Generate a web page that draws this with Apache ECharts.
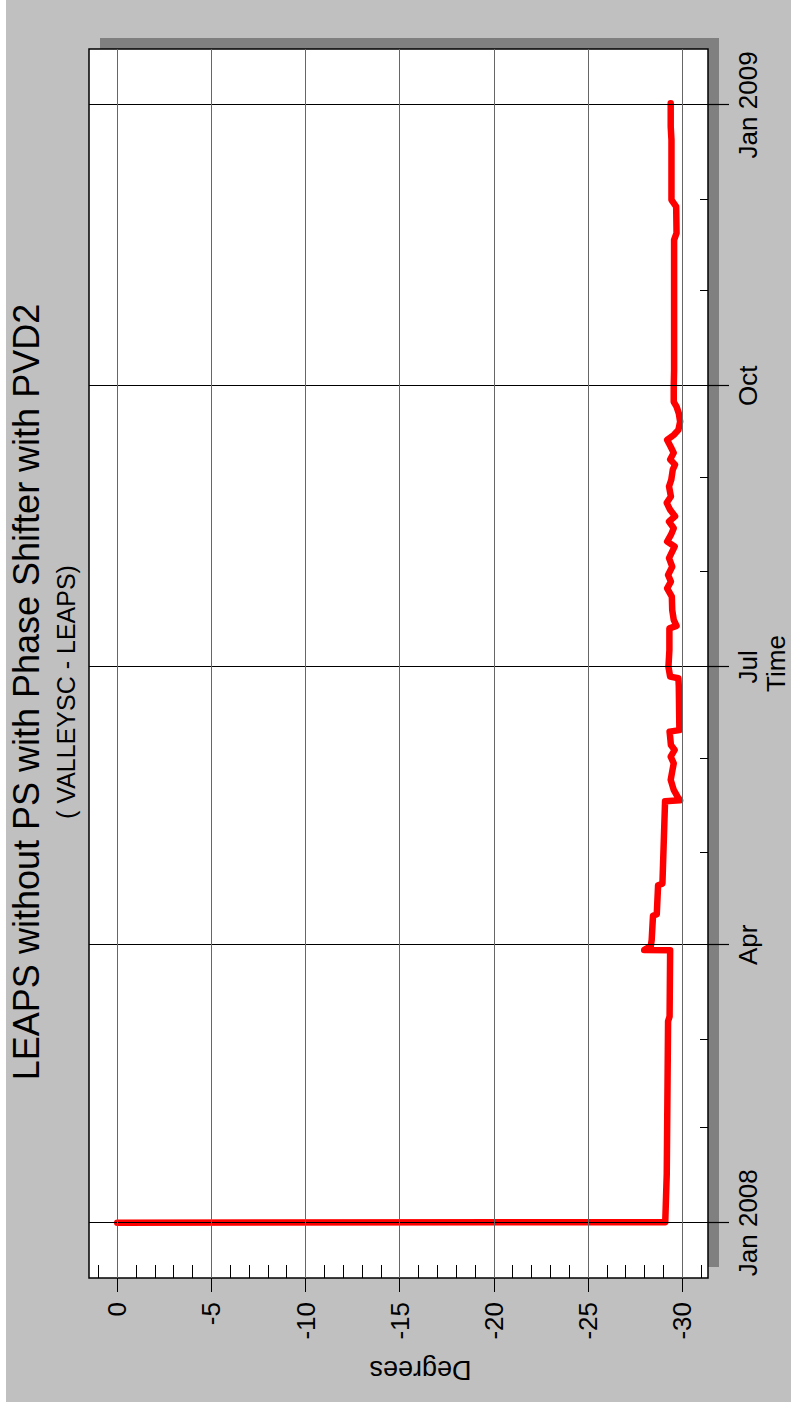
<!DOCTYPE html>
<html><head><meta charset="utf-8">
<script src="https://cdn.jsdelivr.net/npm/echarts@6/dist/echarts.min.js"></script>
<style>
html,body{margin:0;padding:0;width:791px;height:1410px;overflow:hidden;background:#fff;}
#chart{position:absolute;left:0;top:0;width:1410px;height:791px;transform-origin:0 0;transform:translate(0,1410px) rotate(-90deg);}
</style></head><body><div id="chart"></div>
<script>
// ---- data ----
const times = [
 '2008-01-01 00:00','2008-01-01 04:00','2008-01-17 00:00','2008-03-07 00:00','2008-03-08 12:00',
 '2008-03-30 05:00','2008-03-30 07:00','2008-03-30 14:00','2008-03-31 12:00','2008-04-02 14:00',
 '2008-04-10 12:00','2008-04-11 00:00','2008-04-20 12:00','2008-04-21 00:00','2008-05-18 00:00',
 '2008-05-18 07:00','2008-05-19 12:00','2008-05-21 17:00','2008-05-25 00:00','2008-05-27 02:00',
 '2008-05-30 10:00','2008-06-01 14:00','2008-06-03 19:00','2008-06-05 10:00','2008-06-08 02:00',
 '2008-06-09 19:00','2008-06-10 07:00','2008-06-24 12:00','2008-06-27 07:00','2008-06-27 19:00',
 '2008-07-01 00:00','2008-07-06 12:00','2008-07-13 14:00','2008-07-14 10:00','2008-07-16 10:00',
 '2008-07-19 14:00','2008-07-24 00:00','2008-07-26 17:00','2008-07-28 22:00','2008-07-31 02:00',
 '2008-08-02 19:00','2008-08-05 14:00','2008-08-09 10:00','2008-08-11 00:00','2008-08-13 05:00',
 '2008-08-15 10:00','2008-08-17 14:00','2008-08-19 07:00','2008-08-21 12:00','2008-08-23 17:00',
 '2008-08-25 19:00','2008-08-29 02:00','2008-08-31 07:00','2008-09-03 14:00','2008-09-05 05:00',
 '2008-09-06 22:00','2008-09-09 02:00','2008-09-11 02:00','2008-09-13 07:00','2008-09-14 22:00',
 '2008-09-16 14:00','2008-09-19 07:00','2008-09-22 00:00','2008-09-24 05:00','2008-09-25 19:00',
 '2008-09-30 17:00','2008-10-06 05:00','2008-11-17 19:00','2008-11-20 00:00','2008-11-28 17:00',
 '2008-11-30 22:00','2008-12-20 12:00','2008-12-24 22:00','2009-01-01 12:00'
];
const degrees = [
 0,-29.1,-29.18,-29.25,-29.33,
 -29.36,-27.98,-28.05,-28.33,-28.38,
 -28.45,-28.65,-28.72,-28.95,-29.09,
 -29.89,-29.75,-29.55,-29.39,-29.45,
 -29.55,-29.39,-29.6,-29.4,-29.36,
 -29.33,-29.85,-29.82,-29.8,-29.36,
 -29.27,-29.32,-29.32,-29.7,-29.55,
 -29.47,-29.45,-29.2,-29.4,-29.25,
 -29.47,-29.3,-29.6,-29.2,-29.4,
 -29.55,-29.3,-29.62,-29.35,-29.18,
 -29.4,-29.3,-29.42,-29.5,-29.62,
 -29.36,-29.55,-29.39,-29.2,-29.55,
 -29.8,-29.89,-29.82,-29.7,-29.55,
 -29.55,-29.57,-29.57,-29.7,-29.68,
 -29.43,-29.43,-29.39,-29.39
];
const timeTickDates = ['2008-01-01','2008-04-01','2008-07-01','2008-10-01','2009-01-01'];
const timeTickLabels = ['Jan 2008','Apr','Jul','Oct','Jan 2009'];
const monthTickDates = ['2008-01-01','2008-02-01','2008-03-01','2008-04-01','2008-05-01','2008-06-01',
 '2008-07-01','2008-08-01','2008-09-01','2008-10-01','2008-11-01','2008-12-01','2009-01-01'];
const degreeTicks = [0,-5,-10,-15,-20,-25,-30];
const degreeMinorTicks = [1,0,-1,-2,-3,-4,-5,-6,-7,-8,-9,-10,-11,-12,-13,-14,-15,-16,-17,-18,-19,-20,
 -21,-22,-23,-24,-25,-26,-27,-28,-29,-30,-31];
const titleText = 'LEAPS without PS with Phase Shifter with PVD2';
const subtitleText = '( VALLEYSC - LEAPS)';

// ---- helpers ----
function toMs(s){
  const parts = s.split(' ');
  const d = parts[0].split('-').map(Number);
  const t = (parts[1] || '00:00').split(':').map(Number);
  return new Date(d[0], d[1]-1, d[2], t[0], t[1]).getTime();
}
const majorMs = timeTickDates.map(toMs);
const monthMs = monthTickDates.map(toMs);
const tMin = toMs('2007-12-13 21:36');
const tMax = toMs('2009-01-19 07:12');
const FONT = 'Liberation Sans';

const chart = echarts.init(document.getElementById('chart'), null, {renderer:'svg', width:1410, height:791});
chart.setOption({
  animation:false,
  backgroundColor:'transparent',
  graphic:{elements:[
    {type:'rect', z:-10, silent:true, shape:{x:8,y:6,width:1402,height:785}, style:{fill:'#c0c0c0'}},
    {type:'rect', z:-9, silent:true, shape:{x:143,y:100,width:1229,height:619}, style:{fill:'#808080'}}
  ]},
  title:[
    {text:titleText, left:718, top:8.5, textAlign:'center', padding:0,
     textStyle:{fontSize:36, fontWeight:'normal', color:'#000', fontFamily:FONT}},
    {text:subtitleText, left:718, top:53, textAlign:'center', padding:0,
     textStyle:{fontSize:25, fontWeight:'normal', color:'#000', fontFamily:FONT}}
  ],
  grid:{left:132, right:49, top:89, bottom:83, show:true, backgroundColor:'#fff',
        borderColor:'#000', borderWidth:1.5, containLabel:false, outerBoundsMode:'none'},
  xAxis:[
    {type:'value', min:tMin, max:tMax, position:'bottom', scale:true,
     axisLine:{show:false, onZero:false},
     axisTick:{show:true, customValues:majorMs, length:21, lineStyle:{color:'#000', width:1.2}},
     axisLabel:{customValues:majorMs, fontSize:26, color:'#000', fontFamily:FONT, margin:27,
       formatter:function(v){
         let best=0; for(let i=1;i<majorMs.length;i++){ if(Math.abs(majorMs[i]-v)<Math.abs(majorMs[best]-v)) best=i; }
         return timeTickLabels[best];
       }},
     splitLine:{show:false},
     name:'Time', nameLocation:'middle', nameGap:55, nameMoveOverlap:false,
     nameTextStyle:{fontSize:26, lineHeight:26, color:'#000', fontFamily:FONT}
    },
    {type:'value', min:tMin, max:tMax, position:'bottom', scale:true,
     axisLine:{show:false, onZero:false},
     axisTick:{show:true, inside:true, customValues:monthMs, length:8, lineStyle:{color:'#000', width:1}},
     axisLabel:{show:false}, splitLine:{show:false}
    }
  ],
  yAxis:[
    {type:'value', min:-31.37, max:1.5, position:'left',
     axisLine:{show:false, onZero:false},
     axisTick:{show:true, customValues:degreeTicks, length:14, lineStyle:{color:'#000', width:1}},
     axisLabel:{customValues:degreeTicks, fontSize:26, color:'#000', fontFamily:FONT, margin:24},
     splitLine:{show:false},
     name:'Degrees', nameLocation:'middle', nameGap:78,
     nameTextStyle:{fontSize:27, color:'#000', fontFamily:FONT, padding:[0,44,0,0]}
    },
    {type:'value', min:-31.37, max:1.5, position:'left',
     axisLine:{show:false, onZero:false},
     axisTick:{show:true, inside:true, customValues:degreeMinorTicks, length:13, lineStyle:{color:'#000', width:1}},
     axisLabel:{show:false}, splitLine:{show:false}
    }
  ],
  series:[
    {type:'line', name:'grid', xAxisIndex:0, yAxisIndex:0, data:[], z:1, silent:true,
     markLine:{silent:true, symbol:'none', animation:false, label:{show:false},
       data: majorMs.map(function(t){return {xAxis:t, lineStyle:{color:'#000', width:1.2, type:'solid'}};})
         .concat(degreeTicks.map(function(v){return {yAxis:v, lineStyle:{color:'#666', width:1, type:'solid'}};}))
     }},
    {type:'line', name:'VALLEYSC - LEAPS', xAxisIndex:0, yAxisIndex:0, z:3,
     data: times.map(function(t,i){return [toMs(t), degrees[i]];}),
     showSymbol:false, symbol:'none',
     lineStyle:{color:'#ff0000', width:6.5, cap:'round', join:'round'}}
  ]
});
</script></body></html>
